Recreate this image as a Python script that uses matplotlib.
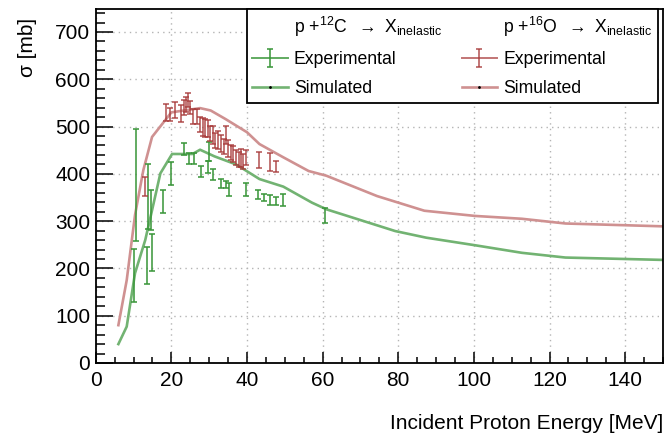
import matplotlib
matplotlib.use("Agg")
import matplotlib.pyplot as plt
from matplotlib.lines import Line2D
from matplotlib.ticker import MultipleLocator

plt.rcParams["font.family"] = ["Liberation Sans", "DejaVu Sans"]
plt.rcParams["mathtext.fontset"] = "custom"
plt.rcParams["mathtext.rm"] = "Liberation Sans"
plt.rcParams["mathtext.it"] = "Liberation Sans:italic"
plt.rcParams["mathtext.bf"] = "Liberation Sans:bold"

# simulated cross sections
sim_c_e = [6.0, 8.2, 10.4, 13.1, 14.9, 17.1, 20.2, 25.6, 27.6, 31.4, 37.1, 43.3,
           49.6, 57.2, 61.0, 79.2, 87.4, 100.3, 112.7, 124.2, 150.0]
sim_c_xs = [40, 77, 190, 260, 323, 401, 442, 442, 451, 437, 420, 389,
            373, 339, 325, 279, 265, 249, 233, 223, 218]
sim_o_e = [6.0, 8.2, 10.4, 12.6, 14.9, 20.0, 27.6, 30.4, 34.3, 40.0, 43.3, 49.6,
           56.3, 61.0, 74.4, 86.9, 100.3, 112.7, 124.2, 150.0]
sim_o_xs = [80, 175, 313, 408, 478, 530, 539, 534, 516, 488, 463, 435,
            406, 396, 353, 322, 311, 305, 295, 289]

# experimental cross sections
exp_c_e = [10.6, 10.0, 13.9, 13.6, 14.7, 14.9, 17.7, 19.8, 23.3, 24.7, 26.1, 27.8,
           30.0, 29.8, 31.0, 33.1, 34.4, 35.2, 39.8, 42.9, 44.6, 46.1, 47.7, 49.5, 60.7]
exp_c_xs = [376, 185, 352, 206, 323, 233, 342, 400, 452, 432, 432, 405,
            448, 414, 399, 380, 378, 367, 367, 356, 350, 345, 343, 344, 311]
exp_c_err = [118, 57, 69, 39, 42, 39, 24, 24, 13, 12, 12, 12,
             20, 13, 12, 9, 7, 13, 14, 10, 7, 10, 9, 13, 16]

exp_o_e = [13.0, 18.7, 19.6, 20.9, 22.5, 23.3, 23.9, 24.5, 24.9, 25.6, 26.9, 27.6,
           28.3, 29.0, 29.7, 30.2, 30.9, 31.6, 32.3, 33.1, 33.8, 34.4, 35.0, 35.7,
           36.4, 37.1, 37.8, 38.4, 39.0, 39.8, 43.2, 46.2, 47.7]
exp_o_xs = [373, 530, 526, 535, 527, 540, 546, 556, 541, 522, 522, 504,
            500, 497, 495, 485, 483, 471, 472, 465, 458, 483, 453, 446,
            442, 435, 431, 434, 427, 435, 430, 425, 416]
exp_o_err = [20, 18, 14, 16, 18, 16, 16, 15, 14, 16, 16, 16,
             19, 19, 18, 16, 19, 16, 19, 18, 16, 19, 18, 16,
             16, 16, 16, 19, 16, 16, 17, 19, 12]

green_line = "#72b372"
green_pts = "#3a963a"
red_line = "#cf9191"
red_pts = "#a83a3a"

fig = plt.figure(figsize=(6.65, 4.34), dpi=100)
ax = fig.add_axes([0.1439, 0.1636, 0.8531, 0.8150])

ax.plot(sim_c_e, sim_c_xs, color=green_line, lw=1.9, zorder=2)
ax.plot(sim_o_e, sim_o_xs, color=red_line, lw=1.9, zorder=2)
eb_c = ax.errorbar(exp_c_e, exp_c_xs, yerr=exp_c_err, fmt="none", ecolor=green_pts,
                   elinewidth=1.4, capsize=2.2, capthick=1.4, alpha=0.8, zorder=3)
eb_o = ax.errorbar(exp_o_e, exp_o_xs, yerr=exp_o_err, fmt="none", ecolor=red_pts,
                   elinewidth=1.4, capsize=2.2, capthick=1.4, alpha=0.7, zorder=3)

ax.set_xlim(0, 150)
ax.set_ylim(0, 748)
ax.xaxis.set_major_locator(MultipleLocator(20))
ax.xaxis.set_minor_locator(MultipleLocator(5))
ax.yaxis.set_major_locator(MultipleLocator(100))
ax.yaxis.set_minor_locator(MultipleLocator(20))
ax.tick_params(axis="both", which="both", direction="in", top=False, right=False,
               labelsize=15, width=1.1)
ax.tick_params(axis="x", which="major", length=8, pad=6)
ax.tick_params(axis="x", which="minor", length=4)
ax.tick_params(axis="y", which="major", length=12.5, pad=4)
ax.tick_params(axis="y", which="minor", length=6.3)
for s in ax.spines.values():
    s.set_linewidth(1.3)
ax.grid(True, which="major", color="#b4b4b4", linestyle=(0, (1, 3)), linewidth=1)

ax.set_xlabel("Incident Proton Energy [MeV]", fontsize=15, loc="right")
ax.set_ylabel("σ [mb]", fontsize=15, loc="top")
ax.xaxis.set_label_coords(1.0, -0.145)
ax.yaxis.set_label_coords(-0.104, 0.975)

blank = Line2D([], [], linestyle="none")
hdr_c = r"p +$^{12}$C  $\rightarrow$ X$_{\rm inelastic}$"
hdr_o = r"p +$^{16}$O  $\rightarrow$ X$_{\rm inelastic}$"
h_ec = (Line2D([], [], color=green_pts, lw=1.4, alpha=0.8), eb_c)
h_eo = (Line2D([], [], color=red_pts, lw=1.4, alpha=0.7), eb_o)
h_sc = Line2D([], [], color=green_line, lw=1.9, marker=".", markersize=2,
              markerfacecolor="k", markeredgecolor="k")
h_so = Line2D([], [], color=red_line, lw=1.9, marker=".", markersize=2,
              markerfacecolor="k", markeredgecolor="k")
leg = ax.legend([blank, h_ec, h_sc, blank, h_eo, h_so],
                [hdr_c, "Experimental", "Simulated", hdr_o, "Experimental", "Simulated"],
                ncol=2, loc="upper right", bbox_to_anchor=(0.9912, 1.0),
                fontsize=12.7, frameon=True, fancybox=False, framealpha=1,
                edgecolor="black", handlelength=2.0, handletextpad=0.35,
                columnspacing=1.1, labelspacing=0.7, borderpad=0.3,
                borderaxespad=0)
leg.get_frame().set_linewidth(1.3)

fig.savefig("out.png", dpi=100)
